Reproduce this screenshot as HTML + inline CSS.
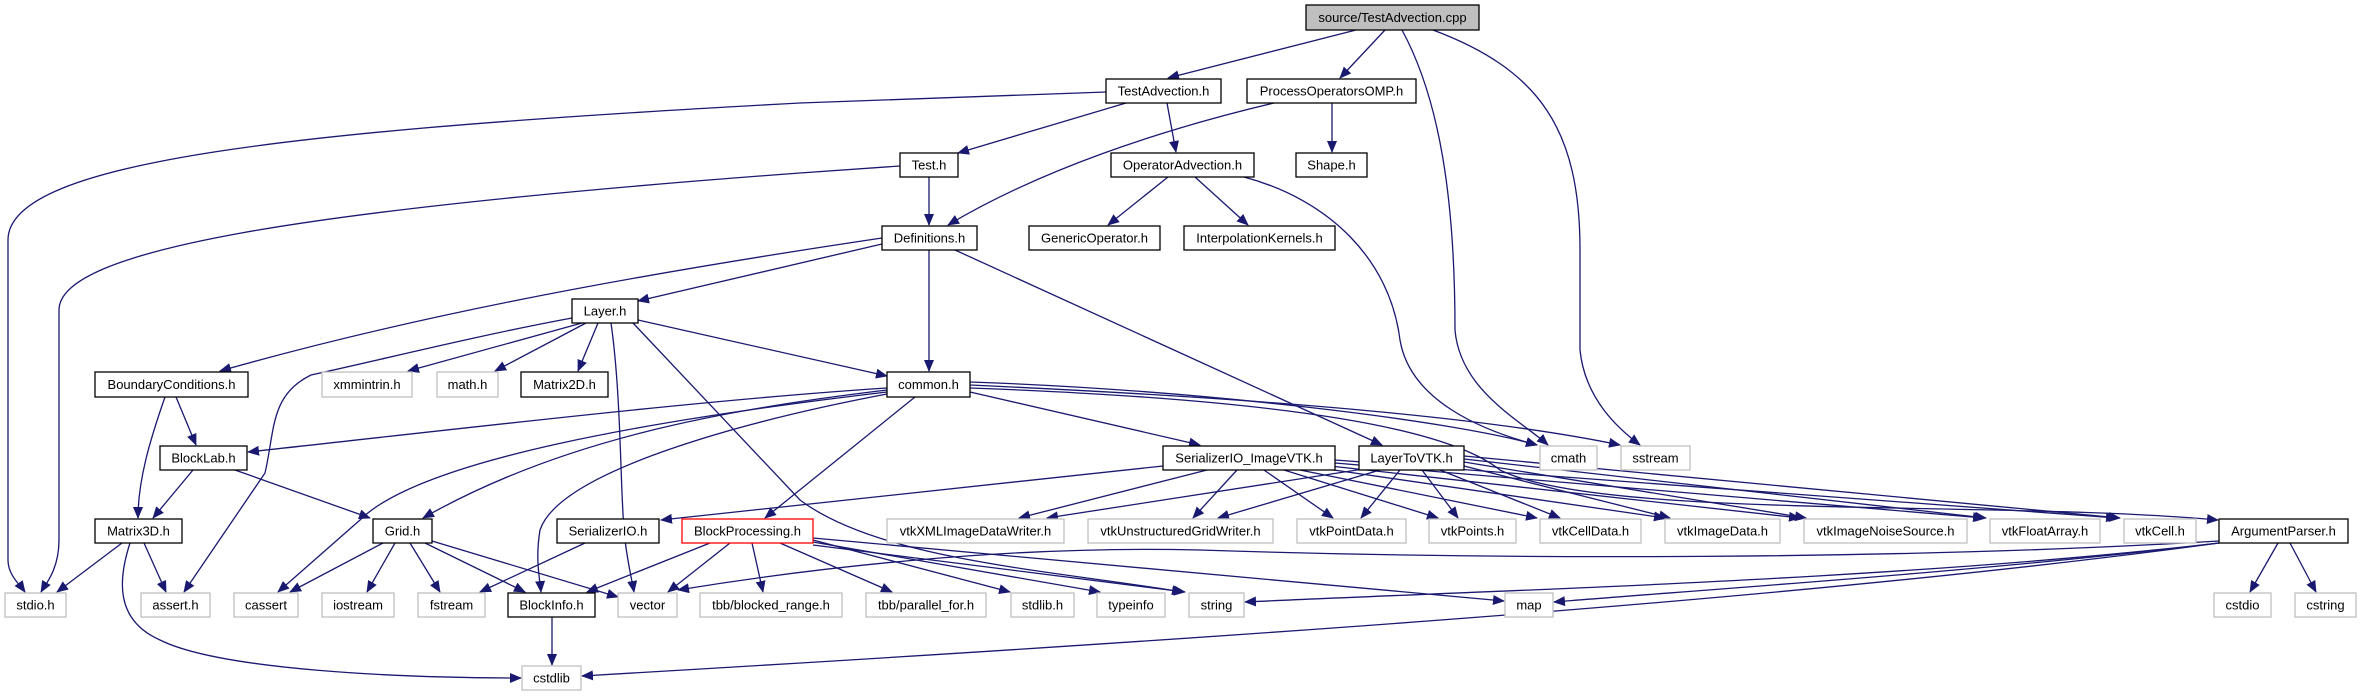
<!DOCTYPE html>
<html><head><meta charset="utf-8"><style>
html,body{margin:0;padding:0;background:#fff;}
svg{display:block;}
text{font-family:"Liberation Sans",Arial,sans-serif;font-size:13px;text-anchor:middle;fill:#000;}
.e{fill:none;stroke:#191970;stroke-width:1.3;marker-end:url(#a);}
.d{fill:#fff;stroke:#000;stroke-width:1.3;}
.x{fill:#fff;stroke:#bfbfbf;stroke-width:1.3;}
</style></head><body>
<svg width="2361" height="696" viewBox="0 0 2361 696" xmlns="http://www.w3.org/2000/svg">
<defs><marker id="a" markerUnits="userSpaceOnUse" markerWidth="12" markerHeight="10" refX="11" refY="5" orient="auto"><path d="M0,0 L12,5 L0,10 z" fill="#191970"/></marker></defs>
<g>
<path class="e" d="M1356,30 L1168,78"/>
<path class="e" d="M1385,30 L1340,78"/>
<path class="e" d="M1402,30 C1440,100 1455,200 1455,330 C1460,390 1520,420 1548,445"/>
<path class="e" d="M1433,30 C1540,70 1580,130 1580,250 L1580,350 C1585,400 1620,430 1640,445"/>
<path class="e" d="M1106,92 L800,103 C300,130 8,160 8,240 L8,560 C8,575 20,585 25,592"/>
<path class="e" d="M900,166 L800,173 C300,210 59,250 59,310 L59,540 C59,570 45,585 41,592"/>
<path class="e" d="M1126,103 L958,153"/>
<path class="e" d="M1167,103 L1176,152"/>
<path class="e" d="M1274,103 C1160,130 1040,170 948,225"/>
<path class="e" d="M1332,103 L1332,152"/>
<path class="e" d="M929,177 L929,225"/>
<path class="e" d="M1168,177 L1108,225"/>
<path class="e" d="M1195,177 L1248,225"/>
<path class="e" d="M1244,177 C1330,200 1390,260 1400,340 C1410,400 1480,430 1537,445"/>
<path class="e" d="M882,244 L638,301"/>
<path class="e" d="M882,238 C600,280 400,320 220,371"/>
<path class="e" d="M929,250 L929,371"/>
<path class="e" d="M955,250 L1382,445"/>
<path class="e" d="M572,318 C480,335 380,360 311,375 C270,395 275,430 265,473 L184,592"/>
<path class="e" d="M582,323 L408,371"/>
<path class="e" d="M586,323 L495,371"/>
<path class="e" d="M598,323 L578,371"/>
<path class="e" d="M611,323 C622,400 620,500 625,540 C628,565 632,580 634,592"/>
<path class="e" d="M633,323 L800,500 C880,560 1050,570 1183,592"/>
<path class="e" d="M638,320 L887,376"/>
<path class="e" d="M887,388 C700,400 450,430 248,452"/>
<path class="e" d="M887,390 C720,410 560,440 423,518"/>
<path class="e" d="M887,392 C650,420 420,460 360,520 L278,592"/>
<path class="e" d="M887,394 C750,420 560,470 540,530 C535,560 540,580 541,592"/>
<path class="e" d="M915,397 L765,518"/>
<path class="e" d="M970,392 L1200,445"/>
<path class="e" d="M970,382 C1200,390 1450,420 1537,445"/>
<path class="e" d="M970,385 C1300,400 1500,420 1620,445"/>
<path class="e" d="M970,388 C1300,400 1450,430 1500,470 C1600,520 2000,500 2218,520"/>
<path class="e" d="M1163,466 L661,520"/>
<path class="e" d="M1207,470 L1019,518"/>
<path class="e" d="M1237,470 L1193,518"/>
<path class="e" d="M1264,470 L1333,518"/>
<path class="e" d="M1284,470 L1438,518"/>
<path class="e" d="M1300,470 L1537,518"/>
<path class="e" d="M1320,468 L1665,518"/>
<path class="e" d="M1330,466 L1800,518"/>
<path class="e" d="M1335,463 L1984,518"/>
<path class="e" d="M1335,460 L2117,518"/>
<path class="e" d="M1370,468 L1047,518"/>
<path class="e" d="M1380,470 L1218,518"/>
<path class="e" d="M1400,470 L1361,518"/>
<path class="e" d="M1422,470 L1458,518"/>
<path class="e" d="M1440,470 L1560,518"/>
<path class="e" d="M1464,466 L1670,518"/>
<path class="e" d="M1464,462 L1806,518"/>
<path class="e" d="M1464,459 L1986,518"/>
<path class="e" d="M1464,456 L2120,518"/>
<path class="e" d="M710,543 L587,592"/>
<path class="e" d="M730,543 L668,592"/>
<path class="e" d="M752,543 L763,592"/>
<path class="e" d="M780,543 L892,592"/>
<path class="e" d="M813,540 L1010,592"/>
<path class="e" d="M813,542 L1100,592"/>
<path class="e" d="M813,545 L1185,592"/>
<path class="e" d="M813,538 L1504,601"/>
<path class="e" d="M383,543 L290,592"/>
<path class="e" d="M395,543 L367,592"/>
<path class="e" d="M410,543 L440,592"/>
<path class="e" d="M425,543 L525,592"/>
<path class="e" d="M432,541 L618,597"/>
<path class="e" d="M585,543 L480,592"/>
<path class="e" d="M193,470 L153,518"/>
<path class="e" d="M235,470 L370,518"/>
<path class="e" d="M176,397 L196,445"/>
<path class="e" d="M165,397 C150,440 138,480 138,518"/>
<path class="e" d="M122,543 L57,592"/>
<path class="e" d="M144,543 L166,592"/>
<path class="e" d="M130,543 C118,580 115,620 160,640 C220,670 400,678 521,678"/>
<path class="e" d="M552,617 L552,665"/>
<path class="e" d="M2278,543 L2250,592"/>
<path class="e" d="M2290,543 L2316,592"/>
<path class="e" d="M2219,543 C2000,570 1700,590 1554,602"/>
<path class="e" d="M2219,543 C1900,580 1500,590 1245,602"/>
<path class="e" d="M2219,543 C1800,600 1200,640 582,676"/>
<path class="e" d="M2219,541 C1900,560 1500,560 1200,550 C1000,545 800,570 678,590"/>
</g>
<g>
<rect x="1306" y="5" width="173" height="25" fill="#bfbfbf" stroke="#000" stroke-width="1.3"/><text x="1392.5" y="22">source/TestAdvection.cpp</text>
<rect class="d" x="1106" y="79" width="115" height="24"/><text x="1163.5" y="95.5">TestAdvection.h</text>
<rect class="d" x="1247" y="79" width="169" height="24"/><text x="1331.5" y="95.5">ProcessOperatorsOMP.h</text>
<rect class="d" x="900" y="153" width="58" height="24"/><text x="929" y="169.5">Test.h</text>
<rect class="d" x="1111" y="153" width="143" height="24"/><text x="1182.5" y="169.5">OperatorAdvection.h</text>
<rect class="d" x="1296" y="153" width="71" height="24"/><text x="1331.5" y="169.5">Shape.h</text>
<rect class="d" x="882" y="226" width="95" height="24"/><text x="929.5" y="242.5">Definitions.h</text>
<rect class="d" x="1029" y="226" width="131" height="24"/><text x="1094.5" y="242.5">GenericOperator.h</text>
<rect class="d" x="1184" y="226" width="151" height="24"/><text x="1259.5" y="242.5">InterpolationKernels.h</text>
<rect class="d" x="572" y="299" width="66" height="24"/><text x="605" y="315.5">Layer.h</text>
<rect class="d" x="95" y="372" width="153" height="25"/><text x="171.5" y="389">BoundaryConditions.h</text>
<rect class="x" x="322" y="372" width="90" height="25"/><text x="367" y="389">xmmintrin.h</text>
<rect class="x" x="437" y="372" width="61" height="25"/><text x="467.5" y="389">math.h</text>
<rect class="d" x="521" y="372" width="87" height="25"/><text x="564.5" y="389">Matrix2D.h</text>
<rect class="d" x="887" y="372" width="83" height="25"/><text x="928.5" y="389">common.h</text>
<rect class="d" x="160" y="446" width="87" height="24"/><text x="203.5" y="462.5">BlockLab.h</text>
<rect class="d" x="1163" y="446" width="172" height="24"/><text x="1249" y="462.5">SerializerIO_ImageVTK.h</text>
<rect class="d" x="1359" y="446" width="105" height="24"/><text x="1411.5" y="462.5">LayerToVTK.h</text>
<rect class="x" x="1540" y="446" width="57" height="24"/><text x="1568.5" y="462.5">cmath</text>
<rect class="x" x="1621" y="446" width="69" height="24"/><text x="1655.5" y="462.5">sstream</text>
<rect class="d" x="95" y="519" width="87" height="24"/><text x="138.5" y="535.5">Matrix3D.h</text>
<rect class="d" x="373" y="519" width="59" height="24"/><text x="402.5" y="535.5">Grid.h</text>
<rect class="d" x="557" y="519" width="102" height="24"/><text x="608" y="535.5">SerializerIO.h</text>
<rect x="682" y="519" width="131" height="24" fill="#fff" stroke="#ff0000" stroke-width="1.3"/><text x="747.5" y="535.5">BlockProcessing.h</text>
<rect class="x" x="887" y="519" width="177" height="24"/><text x="975.5" y="535.5">vtkXMLImageDataWriter.h</text>
<rect class="x" x="1088" y="519" width="185" height="24"/><text x="1180.5" y="535.5">vtkUnstructuredGridWriter.h</text>
<rect class="x" x="1297" y="519" width="109" height="24"/><text x="1351.5" y="535.5">vtkPointData.h</text>
<rect class="x" x="1429" y="519" width="87" height="24"/><text x="1472.5" y="535.5">vtkPoints.h</text>
<rect class="x" x="1540" y="519" width="101" height="24"/><text x="1590.5" y="535.5">vtkCellData.h</text>
<rect class="x" x="1665" y="519" width="115" height="24"/><text x="1722.5" y="535.5">vtkImageData.h</text>
<rect class="x" x="1804" y="519" width="163" height="24"/><text x="1885.5" y="535.5">vtkImageNoiseSource.h</text>
<rect class="x" x="1990" y="519" width="110" height="24"/><text x="2045" y="535.5">vtkFloatArray.h</text>
<rect class="x" x="2124" y="519" width="72" height="24"/><text x="2160" y="535.5">vtkCell.h</text>
<rect class="d" x="2219" y="519" width="129" height="24"/><text x="2283.5" y="535.5">ArgumentParser.h</text>
<rect class="x" x="5" y="593" width="61" height="24"/><text x="35.5" y="609.5">stdio.h</text>
<rect class="x" x="141" y="593" width="69" height="24"/><text x="175.5" y="609.5">assert.h</text>
<rect class="x" x="234" y="593" width="64" height="24"/><text x="266" y="609.5">cassert</text>
<rect class="x" x="322" y="593" width="72" height="24"/><text x="358" y="609.5">iostream</text>
<rect class="x" x="418" y="593" width="67" height="24"/><text x="451.5" y="609.5">fstream</text>
<rect class="d" x="508" y="593" width="87" height="24"/><text x="551.5" y="609.5">BlockInfo.h</text>
<rect class="x" x="618" y="593" width="59" height="24"/><text x="647.5" y="609.5">vector</text>
<rect class="x" x="700" y="593" width="142" height="24"/><text x="771" y="609.5">tbb/blocked_range.h</text>
<rect class="x" x="866" y="593" width="120" height="24"/><text x="926" y="609.5">tbb/parallel_for.h</text>
<rect class="x" x="1011" y="593" width="63" height="24"/><text x="1042.5" y="609.5">stdlib.h</text>
<rect class="x" x="1097" y="593" width="68" height="24"/><text x="1131" y="609.5">typeinfo</text>
<rect class="x" x="1189" y="593" width="55" height="24"/><text x="1216.5" y="609.5">string</text>
<rect class="x" x="1505" y="593" width="48" height="24"/><text x="1529" y="609.5">map</text>
<rect class="x" x="2214" y="593" width="57" height="24"/><text x="2242.5" y="609.5">cstdio</text>
<rect class="x" x="2295" y="593" width="61" height="24"/><text x="2325.5" y="609.5">cstring</text>
<rect class="x" x="522" y="666" width="59" height="24"/><text x="551.5" y="682.5">cstdlib</text>
</g>
</svg>
</body></html>
